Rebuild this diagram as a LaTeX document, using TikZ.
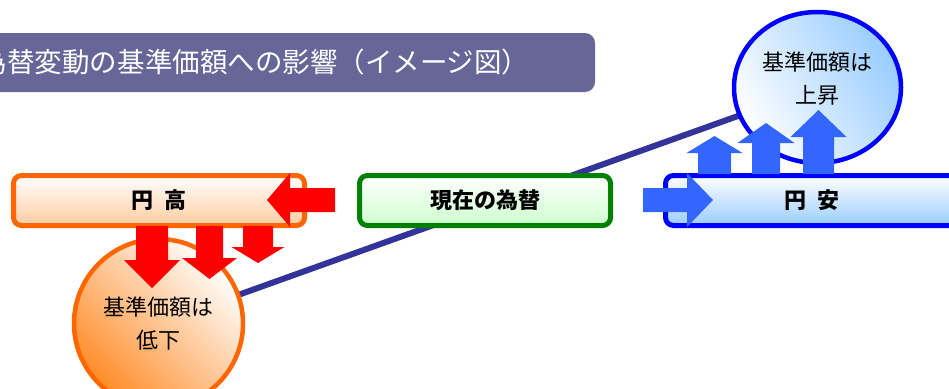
\documentclass[tikz,border=0pt]{standalone}
\usepackage{fontspec}
\setmainfont{Noto Sans CJK JP}
\usetikzlibrary{shapes.geometric,backgrounds}

\definecolor{titlebg}{RGB}{102,102,153}
\definecolor{yenorange}{RGB}{255,102,0}
\definecolor{peach}{RGB}{255,204,160}
\definecolor{orangefill}{RGB}{255,140,40}
\definecolor{nowgreen}{RGB}{0,128,0}
\definecolor{mint}{RGB}{204,255,204}
\definecolor{linkblue}{RGB}{51,51,153}
\definecolor{arrowblue}{RGB}{51,102,255}
\definecolor{skyblue}{RGB}{153,204,255}

\begin{document}
\begin{tikzpicture}[x=1pt,y=-1pt,
	ratebox/.style={draw,line width=5pt,rounded corners=8pt,minimum height=50pt,inner sep=0pt,font=\fontsize{22}{26}\selectfont\bfseries},
	valueball/.style={ellipse,draw,line width=4.5pt,inner sep=0pt},
	balltext/.style={align=center,inner sep=0pt,font=\fontsize{22}{33}\selectfont}]
	\useasboundingbox (0,0) rectangle (949,388);
	% title
	\node[fill=titlebg,rounded corners=10pt,minimum width=620pt,minimum height=59pt,text width=610pt,inner xsep=5pt,align=left,text=white,font=\fontsize{27.5}{31}\selectfont] (title) at (285,62.5) {為替変動の基準価額への影響（イメージ図）};
	% rate boxes
	\node[ratebox,draw=yenorange,top color=white,bottom color=peach,minimum width=291pt] (strong) at (159,200.5) {円\enspace 高};
	\node[ratebox,draw=nowgreen,top color=white,bottom color=mint,minimum width=251pt] (now) at (485,200.5) {現在の為替};
	\node[ratebox,draw=blue,top color=white,bottom color=skyblue,minimum width=293pt] (weak) at (812,200.5) {円\enspace 安};
	% value balls
	\node[valueball,draw=yenorange,left color=orangefill,right color=white,shading angle=135,minimum width=169pt,minimum height=169pt] (down) at (158.5,323.5) {};
	\node[balltext] (downtext) at (down.center) {基準価額は\\低下};
	\node[valueball,draw=blue,left color=white,right color=skyblue,shading angle=120,minimum width=167pt,minimum height=151pt] (up) at (817.5,87.5) {};
	\node[balltext] (uptext) at ([yshift=9pt]up.center) {基準価額は\\上昇};
	\begin{scope}[on background layer]
		\draw[linkblue,line width=6pt] (down.center) -- (up.center);
	\end{scope}
	% side arrows
	\fill[red] (335,188) -- (290,188) -- (290,173) -- (267,200) -- (290,227) -- (290,212) -- (335,212) -- cycle;
	\fill[arrowblue] (643,188) -- (687,188) -- (687,173) -- (713,200) -- (687,227) -- (687,212) -- (643,212) -- cycle;
	% down arrows
	\foreach \cx/\sw/\hb/\hw/\tip in {152/16/260/28/288,209.5/13.5/258/27.5/279,258/15/247/26.5/263}
		\fill[red] (\cx-\sw,226) -- (\cx-\sw,\hb) -- (\cx-\hw,\hb) -- (\cx,\tip) -- (\cx+\hw,\hb) -- (\cx+\sw,\hb) -- (\cx+\sw,226) -- cycle;
	% up arrows
	\foreach \cx/\sw/\hb/\hw/\tip in {714.5/16.5/153/28/136,766/14/143/28.5/123,818.5/15.5/137/28/110}
		\fill[arrowblue] (\cx-\sw,174) -- (\cx-\sw,\hb) -- (\cx-\hw,\hb) -- (\cx,\tip) -- (\cx+\hw,\hb) -- (\cx+\sw,\hb) -- (\cx+\sw,174) -- cycle;
\end{tikzpicture}
\end{document}
